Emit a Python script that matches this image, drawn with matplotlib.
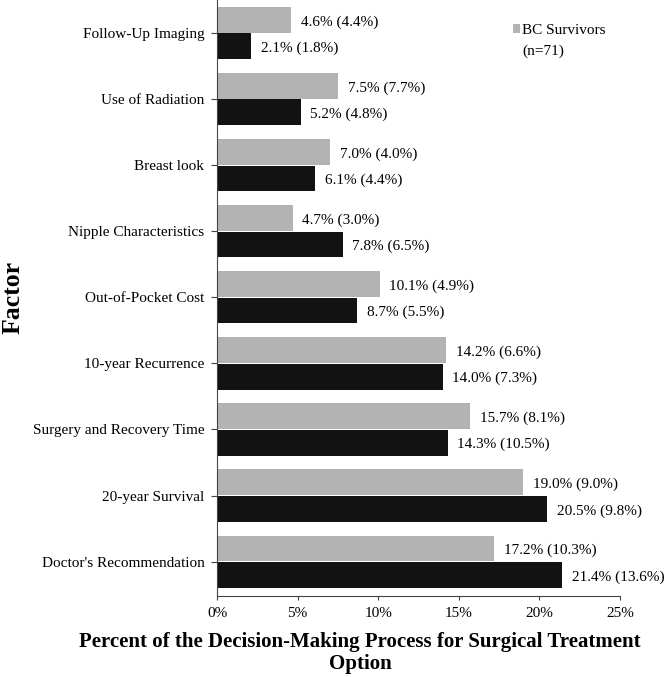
import matplotlib
matplotlib.use("Agg")
import matplotlib.pyplot as plt
import numpy as np

plt.rcParams['font.family'] = ['Liberation Serif', 'DejaVu Serif']

factors = ["Follow-Up Imaging", "Use of Radiation", "Breast look", "Nipple Characteristics",
           "Out-of-Pocket Cost", "10-year Recurrence", "Surgery and Recovery Time",
           "20-year Survival", "Doctor's Recommendation"]
survivors_mean = [4.6, 7.5, 7.0, 4.7, 10.1, 14.2, 15.7, 19.0, 17.2]
survivors_sd = [4.4, 7.7, 4.0, 3.0, 4.9, 6.6, 8.1, 9.0, 10.3]
other_mean = [2.1, 5.2, 6.1, 7.8, 8.7, 14.0, 14.3, 20.5, 21.4]
other_sd = [1.8, 4.8, 4.4, 6.5, 5.5, 7.3, 10.5, 9.8, 13.6]
xticks = [0, 5, 10, 15, 20, 25]

W, H = 666, 677
fig = plt.figure(figsize=(W / 100, H / 100), dpi=100)
ax_left, ax_right, ax_top, ax_bot = 217, 620, 0, 596
ax = fig.add_axes([ax_left / W, 1 - ax_bot / H, (ax_right - ax_left) / W, (ax_bot - ax_top) / H])

y = np.arange(len(factors))
h = 0.39
gray = '#b3b3b3'
black = '#121212'
ax.barh(y - 0.2, survivors_mean, height=h, color=gray, label='BC Survivors')
ax.barh(y + 0.2, other_mean, height=h, color=black)

for yi, m, s in zip(y, survivors_mean, survivors_sd):
    ax.text(m + 0.6, yi - 0.17, f"{m:.1f}% ({s:.1f}%)", va='center', ha='left', fontsize=11)
for yi, m, s in zip(y, other_mean, other_sd):
    ax.text(m + 0.6, yi + 0.23, f"{m:.1f}% ({s:.1f}%)", va='center', ha='left', fontsize=11)

ax.set_ylim(8.52, -0.5)
ax.set_xlim(0, 25)
ax.set_yticks(y)
ax.set_yticklabels(factors, fontsize=11)
ax.set_xticks(xticks)
ax.set_xticklabels([f"{t}%" for t in xticks], fontsize=11)
ax.tick_params(axis='y', length=4, pad=5, color='#444444')
ax.tick_params(axis='x', length=3, pad=5, color='#444444')
for sp in ['top', 'right']:
    ax.spines[sp].set_visible(False)
for sp in ['left', 'bottom']:
    ax.spines[sp].set_color('#444444')

fig.text(360 / W, 1 - 653 / H,
         "Percent of the Decision-Making Process for Surgical Treatment\nOption",
         fontsize=15, fontweight='bold', ha='center', va='center', linespacing=1.15)
fig.text(13 / W, 1 - 297 / H, "Factor", rotation=90, fontsize=18.5, fontweight='bold',
         va='center', ha='center')

leg = fig.legend(loc='upper left', bbox_to_anchor=(513 / W, 1 - 24 / H), frameon=False, fontsize=11,
                 handlelength=0.45, handleheight=0.45, handletextpad=0.15,
                 borderaxespad=0, borderpad=0)
fig.text(522 / W, 1 - 51 / H, "(n=71)", fontsize=11, ha='left', va='center')

fig.savefig("out.png", dpi=100)
